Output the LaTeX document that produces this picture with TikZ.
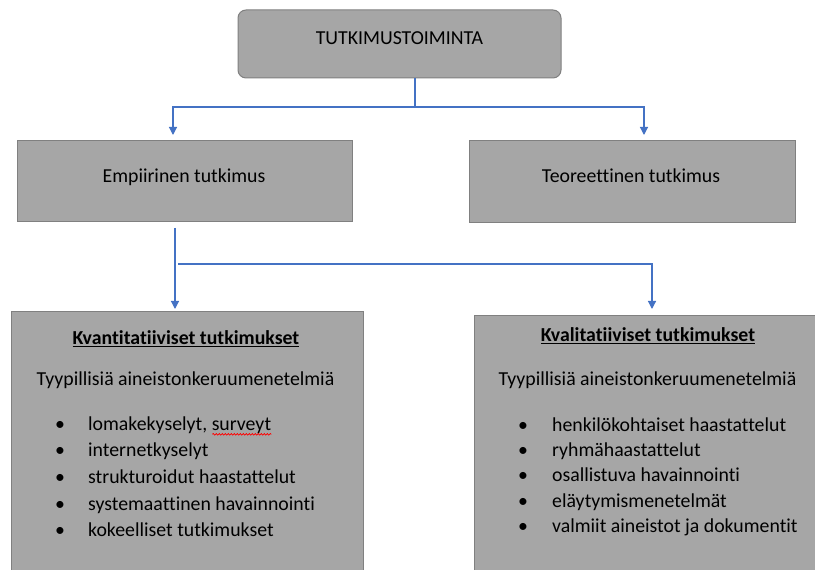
\documentclass[tikz,border=0pt]{standalone}
\usepackage{fontspec}
\setmainfont{Carlito}[Ligatures=NoCommon]
\usetikzlibrary{arrows.meta, decorations.pathmorphing}

\definecolor{boxgray}{RGB}{166,166,166}
\definecolor{edgegray}{RGB}{128,128,128}
\definecolor{linkblue}{RGB}{68,114,196}

\begin{document}
\begin{tikzpicture}[x=1pt, y=1pt, font=\fontsize{19.8}{24}\selectfont,
  box/.style={draw=edgegray, fill=boxgray, line width=1pt},
  txt/.style={inner sep=0pt, anchor=base, yshift=-2pt},
  arr/.style={linkblue, line width=1.2pt, -{Triangle[width=8pt,length=8pt]}}]
  % page 815 x 570, y counted from the bottom
  \fill[white] (0,0) rectangle (815,570);
  \useasboundingbox (0,0) rectangle (815,570);
  \clip (0,0) rectangle (815,570);

  % boxes
  \node[box, rounded corners=8pt, minimum width=323pt, minimum height=68pt] (top) at (399.5,526) {};
  \node[box, minimum width=335pt, minimum height=81pt] (emp) at (184.5,388.5) {};
  \node[box, minimum width=326pt, minimum height=82pt] (teo) at (632,388) {};
  \node[box, minimum width=352pt, minimum height=288pt] (kvant) at (187,114) {};
  \node[box, minimum width=366pt, minimum height=284pt] (kval) at (657,112) {};

  % box texts
  \node[txt] (toptxt) at (399.5,527.3) {TUTKIMUSTOIMINTA};
  \node[txt] (emptxt) at (184,389.3) {Empiirinen tutkimus};
  \node[txt] (teotxt) at (631,389.3) {Teoreettinen tutkimus};

  % quantitative list
  \node[txt] (kvanttit) at (186,227.3) {\underline{\textbf{Kvantitatiiviset tutkimukset}}};
  \node[txt] (kvanttyyp) at (185.5,186) {Tyypillisiä aineistonkeruumenetelmiä};
  \node[txt] (kvantb1) at (60,141.7) {\textbullet};
  \node[txt] (kvantb2) at (60,115) {\textbullet};
  \node[txt] (kvantb3) at (60,88.3) {\textbullet};
  \node[txt] (kvantb4) at (60,61.7) {\textbullet};
  \node[txt] (kvantb5) at (60,35) {\textbullet};
  \node[txt, anchor=base west] (kvanti1) at (88,141.7) {lomakekyselyt, surveyt};
  \node[txt, anchor=base west] (kvanti2) at (88,115) {internetkyselyt};
  \node[txt, anchor=base west] (kvanti3) at (88,88.3) {strukturoidut haastattelut};
  \node[txt, anchor=base west] (kvanti4) at (88,61.7) {systemaattinen havainnointi};
  \node[txt, anchor=base west] (kvanti5) at (88,35) {kokeelliset tutkimukset};
  \draw[red, line width=0.7pt, decorate, decoration={snake, amplitude=0.8pt, segment length=3pt}]
    ([xshift=-59pt, yshift=-4pt]kvanti1.base east) -- ([yshift=-4pt]kvanti1.base east);

  % qualitative list
  \node[txt] (kvaltit) at (648,230) {\underline{\textbf{Kvalitatiiviset tutkimukset}}};
  \node[txt] (kvaltyyp) at (647.5,186) {Tyypillisiä aineistonkeruumenetelmiä};
  \node[txt] (kvalb1) at (523,140) {\textbullet};
  \node[txt] (kvalb2) at (523,115) {\textbullet};
  \node[txt] (kvalb3) at (523,90) {\textbullet};
  \node[txt] (kvalb4) at (523,64.3) {\textbullet};
  \node[txt] (kvalb5) at (523,39) {\textbullet};
  \node[txt, anchor=base west] (kvali1) at (552,140) {henkilökohtaiset haastattelut};
  \node[txt, anchor=base west] (kvali2) at (552,115) {ryhmähaastattelut};
  \node[txt, anchor=base west] (kvali3) at (552,90) {osallistuva havainnointi};
  \node[txt, anchor=base west] (kvali4) at (552,64.3) {eläytymismenetelmät};
  \node[txt, anchor=base west] (kvali5) at (552,39) {valmiit aineistot ja dokumentit};

  % connectors
  \coordinate (j1) at (415,463);
  \coordinate (a1) at (173,435);
  \coordinate (a2) at (644,435);
  \draw[arr, -] (top.south -| j1) -- (j1);
  \draw[arr] (j1) -| (a1);
  \draw[arr] (j1) -| (a2);
  \coordinate (b0) at (175,342);
  \coordinate (b1) at (175,261);
  \coordinate (j2) at (178,306);
  \coordinate (b2) at (652,261);
  \draw[arr] (b0) -- (b1);
  \draw[arr] (j2) -| (b2);
\end{tikzpicture}
\end{document}
